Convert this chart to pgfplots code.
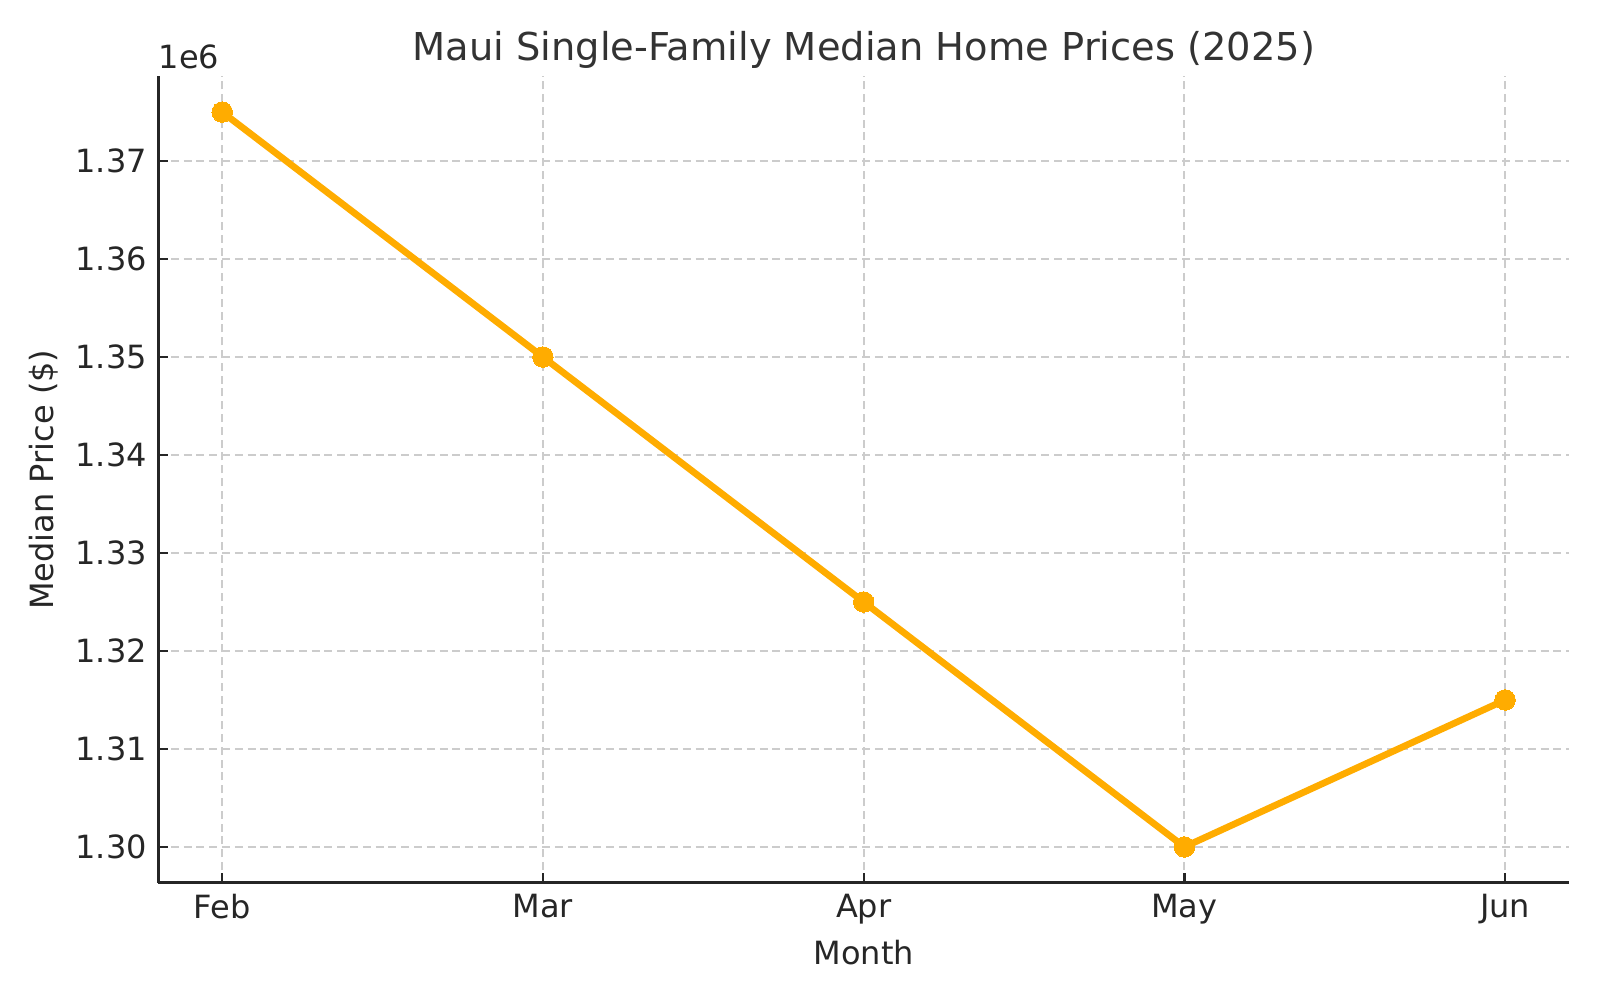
\documentclass[border=0pt]{standalone}
\usepackage{fontspec}
\setmainfont{DejaVu Sans}
\usepackage{pgfplots}
\pgfplotsset{compat=1.18}

\definecolor{lineor}{RGB}{255,172,0}
\definecolor{gridgray}{RGB}{204,204,204}
\definecolor{txt}{RGB}{38,38,38}
\definecolor{ttl}{RGB}{51,51,51}

\begin{document}
\begin{tikzpicture}
% 1 px of the reference = 0.3125pt
\useasboundingbox (-49.4pt,-36.6pt) rectangle (450.6pt,275.9pt);
\begin{axis}[
  at={(0,0)}, anchor=south west,
  scale only axis,
  width=441pt, height=252pt,
  xmin=-0.2, xmax=4.2,
  ymin=1296330, ymax=1378640,
  axis x line*=bottom, axis y line*=left,
  axis line style={-, line width=0.9pt, color=txt},
  tick align=inside,
  major tick length=3pt,
  tick style={line width=0.7pt, color=txt},
  xtick={0,1,2,3,4},
  xticklabels={Feb,Mar,Apr,May,Jun},
  ytick={1300000,1310000,1320000,1330000,1340000,1350000,1360000,1370000},
  scaled y ticks=base 10:-6,
  ytick scale label code/.code={},
  yticklabel style={/pgf/number format/fixed, /pgf/number format/fixed zerofill,
    /pgf/number format/precision=2},
  /pgf/number format/assume math mode=true,
  ticklabel style={font=\fontsize{10}{12}\selectfont, text=txt},
  grid=major,
  major grid style={gridgray, line width=0.6pt, dash pattern=on 2.5pt off 1.5pt},
  xlabel={Month},
  ylabel={Median Price (\$)},
  label style={font=\fontsize{10}{12}\selectfont, text=txt},
  xlabel style={yshift=2pt},
  ylabel style={yshift=-1.5pt},
  title={Maui Single-Family Median Home Prices (2025)},
  title style={font=\fontsize{12}{14}\selectfont, text=ttl, yshift=-7pt},
  clip=false,
]
\addplot[color=lineor, line width=2.1pt, mark=*, mark size=3.2pt,
  mark options={fill=lineor, draw=lineor, line width=0pt}]
  coordinates {
    (0,1375000)
    (1,1350000)
    (2,1325000)
    (3,1300000)
    (4,1315000)
  };
\node[anchor=south west, inner sep=0pt, text=txt, font=\fontsize{10}{12}\selectfont]
  at (rel axis cs:0,1) [yshift=2pt] {1e6};
\end{axis}
\end{tikzpicture}
\end{document}
